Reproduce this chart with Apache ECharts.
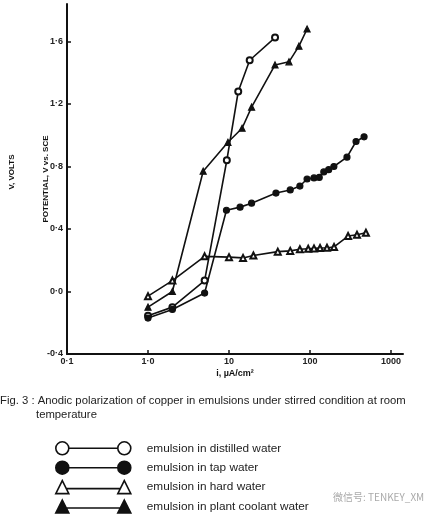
<!DOCTYPE html>
<html>
<head>
<meta charset="utf-8">
<script src="https://cdn.jsdelivr.net/npm/echarts@6/dist/echarts.min.js"></script>
<style>
html,body{margin:0;padding:0;background:#fff;}
#chart{width:436px;height:517px;}
</style>
</head>
<body>
<div id="chart"></div>
<script>
// ---- data (i in µA/cm², potential in V vs SCE) ----
var seriesNames = ['emulsion in distilled water', 'emulsion in tap water', 'emulsion in hard water', 'emulsion in plant coolant water'];

var distilledI = [1.0, 2.0, 5.0, 9.4, 13, 18, 37];
var distilledV = [-0.155, -0.10, 0.07, 0.84, 1.28, 1.48, 1.625];

var tapI = [1.0, 2.0, 5.0, 9.3, 13.7, 19, 38, 57, 75, 92, 112, 130, 148, 170, 197, 286, 370, 465];
var tapV = [-0.17, -0.115, -0.01, 0.52, 0.54, 0.565, 0.63, 0.65, 0.675, 0.72, 0.727, 0.73, 0.765, 0.78, 0.80, 0.86, 0.96, 0.99];

var hardI = [1.0, 2.0, 5.0, 10, 14.9, 20, 40, 57, 75, 95, 112, 133, 162, 198, 295, 380, 490];
var hardV = [-0.03, 0.07, 0.225, 0.22, 0.215, 0.23, 0.255, 0.26, 0.27, 0.274, 0.276, 0.278, 0.28, 0.285, 0.355, 0.363, 0.376];

var coolantI = [1.0, 2.0, 4.8, 9.7, 14.5, 19, 37, 55, 73, 92];
var coolantV = [-0.10, 0.0, 0.77, 0.955, 1.045, 1.18, 1.45, 1.47, 1.57, 1.68];

var xTickValues = [0.1, 1, 10, 100, 1000];
var xTickLabels = ['0·1', '1·0', '10', '100', '1000'];
var yTickLabels = {'-0.4': '-0·4', '0': '0·0', '0.4': '0·4', '0.8': '0·8', '1.2': '1·2', '1.6': '1·6'};

function pairs(xs, ys) { return xs.map(function (x, k) { return [x, ys[k]]; }); }

var circlePath = 'path://M0,6.5 A6.5,6.5 0 1,0 13,6.5 A6.5,6.5 0 1,0 0,6.5 Z M62,6.5 A6.5,6.5 0 1,0 75,6.5 A6.5,6.5 0 1,0 62,6.5 Z M13,6.5 L62,6.5';
var trianglePath = 'path://M6.5,0 L13,13 L0,13 Z M68.5,0 L75,13 L62,13 Z M10,8 L65,8';

var chart = echarts.init(document.getElementById('chart'), null, {renderer: 'canvas'});

function lineSeries(name, data, symbol) {
  return {
    name: name,
    type: 'line',
    data: data,
    symbol: symbol,
    symbolSize: 6,
    showSymbol: true,
    lineStyle: {color: '#111', width: 1.6},
    itemStyle: {color: '#111', borderColor: '#111', borderWidth: 1.2},
    emphasis: {disabled: true},
    z: 3
  };
}

var option = {
  backgroundColor: '#fff',
  animation: false,
  grid: {left: 67, right: 33, top: 4, bottom: 163, containLabel: false},
  xAxis: {
    type: 'log',
    logBase: 10,
    min: 0.1,
    max: 1406,
    name: 'i, µA/cm²',
    nameLocation: 'middle',
    nameGap: 15,
    nameMoveOverlap: false,
    nameTextStyle: {fontFamily: 'Liberation Sans', fontWeight: 'bold', fontSize: 9, color: '#111'},
    axisLine: {onZero: false, lineStyle: {color: '#111', width: 2}},
    axisTick: {show: true, inside: true, length: 4, lineStyle: {color: '#111', width: 1.5}, customValues: xTickValues},
    axisLabel: {
      customValues: xTickValues,
      margin: 3,
      fontFamily: 'Liberation Sans', fontWeight: 'bold', fontSize: 9, color: '#222',
      formatter: function (v) {
        for (var k = 0; k < xTickValues.length; k++) {
          if (Math.abs(Math.log10(v) - Math.log10(xTickValues[k])) < 1e-6) return xTickLabels[k];
        }
        return '';
      }
    },
    splitLine: {show: false}
  },
  yAxis: {
    type: 'value',
    min: -0.4,
    max: 1.84,
    interval: 0.4,
    name: 'POTENTIAL, V vs. SCE',
    nameLocation: 'middle',
    nameRotate: 90,
    nameGap: 17,
    nameMoveOverlap: false,
    nameTextStyle: {fontFamily: 'Liberation Sans', fontWeight: 'bold', fontSize: 8, color: '#111'},
    axisLine: {show: true, onZero: false, lineStyle: {color: '#111', width: 2}},
    axisTick: {show: true, inside: true, length: 4, lineStyle: {color: '#111', width: 1.5}},
    axisLabel: {
      showMaxLabel: false,
      margin: 4,
      fontFamily: 'Liberation Sans', fontWeight: 'bold', fontSize: 9, color: '#222',
      formatter: function (v) {
        var key = String(Math.round(v * 10) / 10);
        return yTickLabels[key] !== undefined ? yTickLabels[key] : '';
      }
    },
    splitLine: {show: false}
  },
  legend: {
    orient: 'vertical',
    left: 55,
    top: 441,
    height: 110,
    padding: 0,
    itemWidth: 75,
    itemHeight: 13,
    itemGap: 4.8,
    selectedMode: false,
    textStyle: {fontFamily: 'Liberation Sans', fontSize: 11.8, lineHeight: 13, color: '#222', padding: [0, 0, 0, 11]},
    data: [
      {name: seriesNames[0], icon: circlePath, itemStyle: {color: '#fff', borderColor: '#111', borderWidth: 1.6}},
      {name: seriesNames[1], icon: circlePath, itemStyle: {color: '#111', borderColor: '#111', borderWidth: 1.6}},
      {name: seriesNames[2], icon: trianglePath, itemStyle: {color: '#fff', borderColor: '#111', borderWidth: 1.6}},
      {name: seriesNames[3], icon: trianglePath, itemStyle: {color: '#111', borderColor: '#111', borderWidth: 1.6}}
    ]
  },
  graphic: [
    {type: 'text', x: 12, y: 172, rotation: Math.PI / 2,
     style: {text: 'V, VOLTS', fontFamily: 'Liberation Sans', fontWeight: 'bold', fontSize: 8, fill: '#111', align: 'center', verticalAlign: 'middle'}},
    {type: 'text', x: 0, y: 395,
     style: {text: 'Fig. 3 : Anodic polarization of copper in emulsions under stirred condition at room', fontFamily: 'Liberation Sans', fontSize: 11.3, fill: '#222', align: 'left', verticalAlign: 'top'}},
    {type: 'text', x: 36, y: 409,
     style: {text: 'temperature', fontFamily: 'Liberation Sans', fontSize: 11.3, fill: '#222', align: 'left', verticalAlign: 'top'}},
    {type: 'text', x: 333, y: 492,
     style: {text: '微信号: TENKEY_XM', fontFamily: 'Noto Sans CJK SC', fontSize: 10, fill: '#aaa', align: 'left', verticalAlign: 'top'}}
  ],
  series: [
    lineSeries(seriesNames[0], pairs(distilledI, distilledV), 'emptyCircle'),
    lineSeries(seriesNames[1], pairs(tapI, tapV), 'circle'),
    lineSeries(seriesNames[2], pairs(hardI, hardV), 'emptyTriangle'),
    lineSeries(seriesNames[3], pairs(coolantI, coolantV), 'triangle')
  ]
};

chart.setOption(option);
</script>
</body>
</html>
